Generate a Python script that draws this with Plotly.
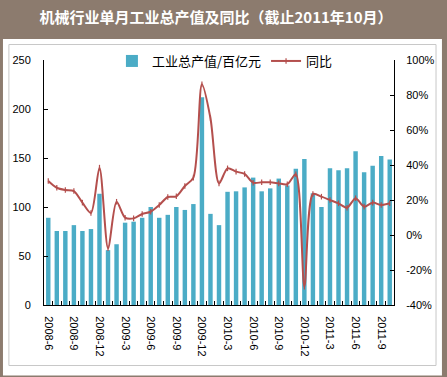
import plotly.graph_objects as go

months = ["2008-6", "2008-7", "2008-8", "2008-9", "2008-10", "2008-11", "2008-12",
          "2009-1", "2009-2", "2009-3", "2009-4", "2009-5", "2009-6", "2009-7", "2009-8",
          "2009-9", "2009-10", "2009-11", "2009-12",
          "2010-1", "2010-2", "2010-3", "2010-4", "2010-5", "2010-6", "2010-7", "2010-8",
          "2010-9", "2010-10", "2010-11", "2010-12",
          "2011-1", "2011-2", "2011-3", "2011-4", "2011-5", "2011-6", "2011-7", "2011-8",
          "2011-9", "2011-10"]

output_value = [89, 75.5, 75.5, 81.5, 75.5, 77.5, 113.5,
                56, 62, 84, 85, 89, 100, 89, 92, 100, 97, 103, 212,
                93, 81.5, 115.5, 116, 120, 130, 116, 119, 129, 122, 139, 149,
                114, 100, 139.5, 137.5, 139.5, 157, 135.5, 142, 152, 148.5]

yoy_pct = [30.9, 27, 25.7, 25.1, 18.5, 12.6, 38.5,
           -7.6, 19, 9.9, 9.5, 12, 13.3, 17.1, 21.7, 22.1, 28, 32.8, 86.1,
           66.7, 29.5, 38.1, 36.2, 34.9, 29.9, 30.1, 30.1, 29.5, 29, 34.7, -29.5,
           23.4, 21.9, 20, 18.1, 15.6, 21, 16.2, 18.5, 17.1, 18.1]

tick_labels = [m if i % 3 == 0 else "" for i, m in enumerate(months)]

left_ticks = [0, 50, 100, 150, 200, 250]
right_ticks = [-40, -20, 0, 20, 40, 60, 80, 100]
right_tick_text = [f"{v}%" for v in right_ticks]

W, H = 447, 377
L, R, T, B = 43, 50, 60, 72
pw, ph = W - L - R, H - T - B

def px_x(p):
    return (p - L) / pw

def px_y(p):
    return (H - B - p) / ph

fig = go.Figure()
fig.add_trace(go.Bar(
    x=months, y=output_value, name="工业总产值/百亿元",
    marker=dict(color="#4BACC6", line=dict(width=0)),
    yaxis="y",
))
fig.add_trace(go.Scatter(
    x=months, y=yoy_pct, name="同比", mode="lines+markers",
    line=dict(color="#B44F4D", width=2, shape="spline", smoothing=0.8),
    marker=dict(symbol="line-ns", size=4, line=dict(color="#B44F4D", width=1.2)),
    yaxis="y2",
))

tick_font = dict(family="Liberation Sans, Arial, sans-serif", size=11, color="black")

fig.update_layout(
    width=W, height=H,
    margin=dict(l=L, r=R, t=T, b=B, pad=0),
    paper_bgcolor="#8C7B6E",
    plot_bgcolor="white",
    bargap=0.48,
    showlegend=True,
    legend=dict(orientation="h", x=px_x(226), y=px_y(61), xanchor="center", yanchor="middle",
                font=dict(family="Noto Sans CJK SC", size=13, color="black"),
                bgcolor="rgba(0,0,0,0)", itemwidth=30, tracegroupgap=0),
    title=dict(text="<b>机械行业单月工业总产值及同比（截止2011年10月）</b>",
               x=216 / W, xref="container", xanchor="center",
               y=1 - 18 / H, yref="container", yanchor="middle",
               font=dict(family="Noto Sans CJK SC", size=15, color="white")),
    xaxis=dict(type="category", tickmode="array", tickvals=months, ticktext=tick_labels,
               tickangle=90, tickson="boundaries", ticks="inside", ticklen=4,
               tickcolor="black", showline=True, linecolor="black", linewidth=1,
               showgrid=False, zeroline=False, tickfont=tick_font,
               ticklabelstandoff=8, range=[-0.5, len(months) - 0.5]),
    yaxis=dict(range=[0, 250], tickmode="array", tickvals=left_ticks, ticks="inside", ticklen=4,
               tickcolor="black", showline=True, linecolor="black", linewidth=1,
               showgrid=False, zeroline=False, tickfont=tick_font, ticklabelstandoff=10),
    yaxis2=dict(range=[-40, 100], tickmode="array", tickvals=right_ticks,
                ticktext=right_tick_text, overlaying="y",
                side="right", ticks="inside", ticklen=4, tickcolor="black",
                showline=True, linecolor="black", linewidth=1, showgrid=False,
                zeroline=False, tickfont=tick_font, ticklabelstandoff=9),
    shapes=[
        dict(type="rect", xref="paper", yref="paper", layer="below",
             x0=px_x(1.5), x1=px_x(445.5), y0=px_y(375.5), y1=px_y(39),
             fillcolor="white", line=dict(width=0)),
        dict(type="rect", xref="paper", yref="paper", layer="below",
             x0=px_x(7.5), x1=px_x(439.5), y0=px_y(365.5), y1=px_y(44.5),
             fillcolor="white", line=dict(width=1, color="#C8C8C8")),
    ],
)

fig.write_html("out.html",
               config={"displayModeBar": False},
               post_script="document.body.style.margin='0';document.body.style.padding='0';")
